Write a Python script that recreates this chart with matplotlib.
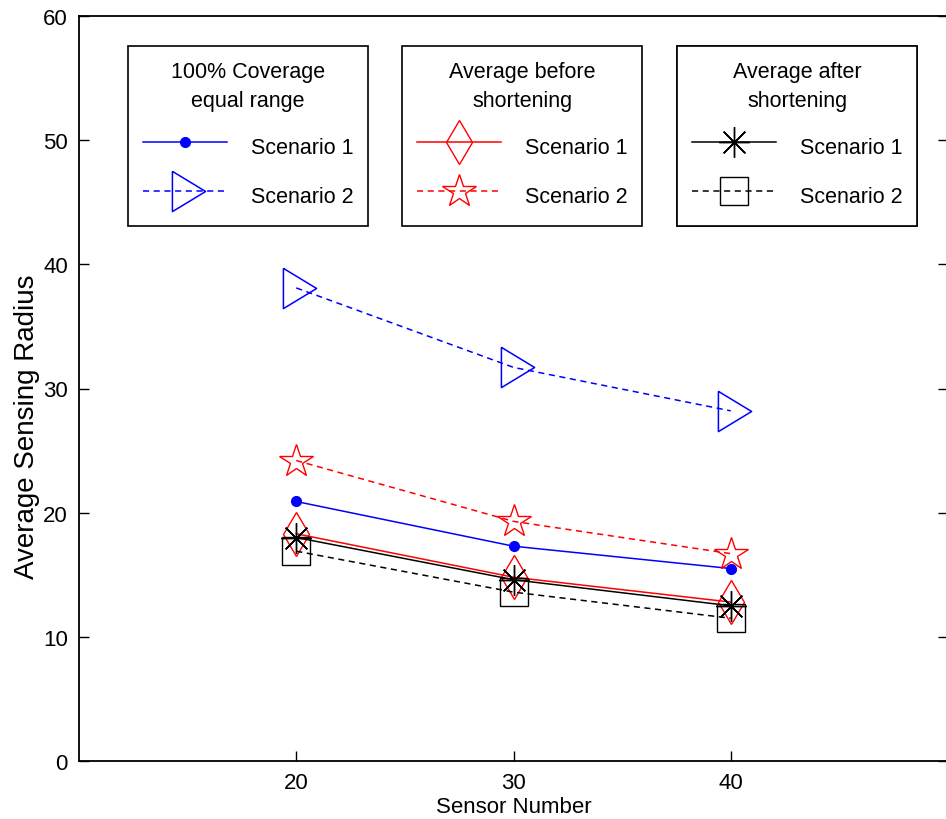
import numpy as np
import matplotlib.pyplot as plt

plt.rcParams['font.family'] = ['Liberation Sans', 'DejaVu Sans']

sensors = [20, 30, 40]
cov_s1 = [20.9, 17.3, 15.5]
cov_s2 = [38.1, 31.7, 28.2]
before_s1 = [18.3, 14.8, 12.8]
before_s2 = [24.2, 19.3, 16.7]
after_s1 = [18.0, 14.6, 12.5]
after_s2 = [16.9, 13.6, 11.5]

fig = plt.figure(figsize=(9.46, 8.2), dpi=100)
ax = fig.add_axes([79/946, 58/820, 869/946, 745/820])

dash = (4, 3)
tri = [(-0.65, 1), (1, 0), (-0.65, -1), (-0.65, 1)]

l1, = ax.plot(sensors, cov_s1, '-', color='b', lw=1.1, marker='o', ms=7, label='Scenario 1')
l2, = ax.plot(sensors, cov_s2, color='b', lw=1.1, dashes=dash, marker=tri, ms=29,
              mfc='none', mew=1.1, label='Scenario 2')
l3, = ax.plot(sensors, before_s1, '-', color='r', lw=1.1, marker='d', ms=22,
              mfc='none', mew=1.0, label='Scenario 1')
l4, = ax.plot(sensors, before_s2, color='r', lw=1.1, dashes=dash, marker='*', ms=25,
              mfc='none', mew=1.0, label='Scenario 2')
l5, = ax.plot(sensors, after_s1, '-', color='k', lw=1.1, marker=(8, 2, 0), ms=22,
              mew=1.0, label='Scenario 1')
l6, = ax.plot(sensors, after_s2, color='k', lw=1.1, dashes=dash, marker='s', ms=20,
              mfc='none', mew=1.0, label='Scenario 2')

ax.set_xlim(10, 50)
ax.set_ylim(0, 60)
ax.set_xticks([20, 30, 40])
ax.set_yticks(np.arange(0, 61, 10))
ax.tick_params(direction='in', length=7, width=1, labelsize=16, top=False, right=True, pad=8)
for s in ax.spines.values():
    s.set_linewidth(1.3)
ax.set_xlabel('Sensor Number', fontsize=16, labelpad=2)
ax.set_ylabel('Average Sensing Radius', fontsize=20)
ax.yaxis.set_label_coords(-0.045, 0.45)

groups = [
    ([l1, l2], '100% Coverage\nequal range', 0.0564),
    ([l3, l4], 'Average before\nshortening', 0.3717),
    ([l5, l6], 'Average after\nshortening', 0.688),
]
for handles, title, x0 in groups:
    leg = ax.legend(handles=handles, title=title, loc='upper left',
                    bbox_to_anchor=(x0, 0.9597), fontsize=15.5, title_fontsize=15.5,
                    fancybox=False, framealpha=1, edgecolor='k', borderaxespad=0,
                    handlelength=3.9, handletextpad=1.1, handleheight=1.8,
                    labelspacing=0.9, borderpad=0.7, numpoints=1)
    leg.get_frame().set_linewidth(1.2)
    leg.get_title().set_multialignment('center')
    leg.get_title().set_linespacing(1.5)
    ax.add_artist(leg)

fig.savefig('out.png', dpi=100)
